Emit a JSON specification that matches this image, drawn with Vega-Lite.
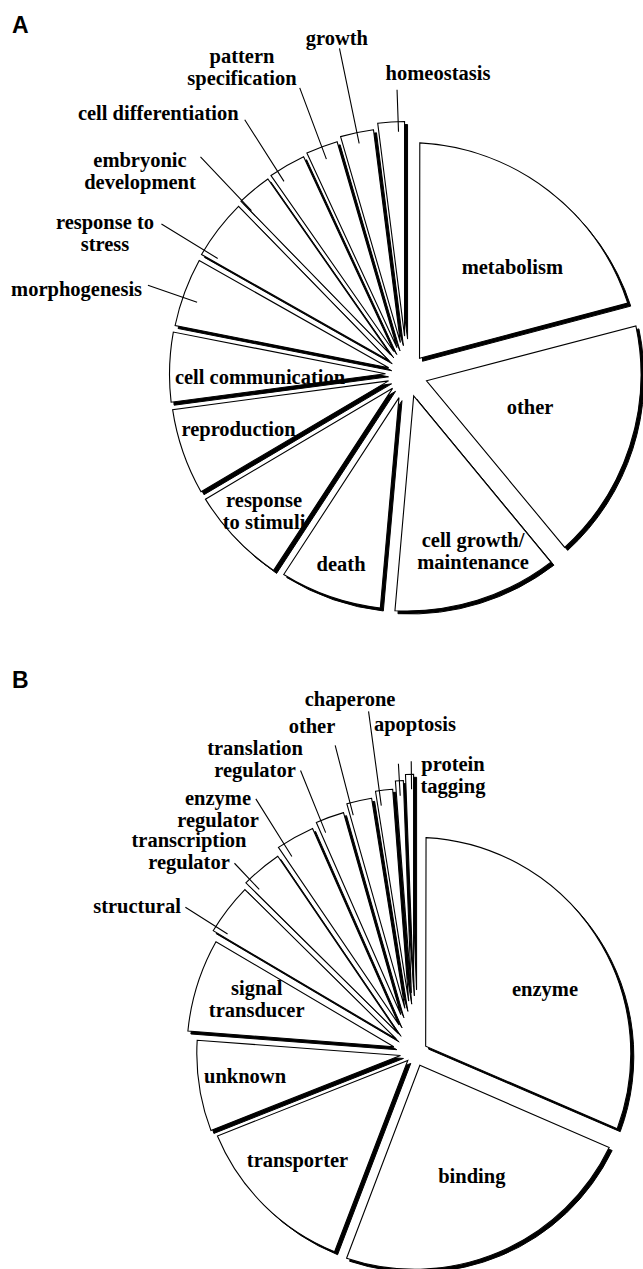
{
"$schema":"https://vega.github.io/schema/vega-lite/v6.json",
"width":643,"height":1269,"autosize":{"type":"none"},"padding":0,"background":"white",
"config":{"view":{"stroke":null}},
"data":{"values":[
{"chart":"A","label":"metabolism","pct":20.9},
{"chart":"A","label":"other","pct":18.1},
{"chart":"A","label":"cell growth/\nmaintenance","pct":12.4},
{"chart":"A","label":"death","pct":7.8},
{"chart":"A","label":"response\nto stimuli","pct":7.3},
{"chart":"A","label":"reproduction","pct":6.4},
{"chart":"A","label":"cell communication","pct":5.2},
{"chart":"A","label":"morphogenesis","pct":5.1},
{"chart":"A","label":"response to\nstress","pct":4.5},
{"chart":"A","label":"embryonic\ndevelopment","pct":2.6},
{"chart":"A","label":"cell differentiation","pct":2.8},
{"chart":"A","label":"pattern\nspecification","pct":2.4},
{"chart":"A","label":"growth","pct":2.5},
{"chart":"A","label":"homeostasis","pct":2.0},
{"chart":"B","label":"enzyme","pct":31.5},
{"chart":"B","label":"binding","pct":24.3},
{"chart":"B","label":"transporter","pct":13.2},
{"chart":"B","label":"unknown","pct":7.2},
{"chart":"B","label":"signal\ntransducer","pct":7.3},
{"chart":"B","label":"structural","pct":3.9},
{"chart":"B","label":"transcription\nregulator","pct":3.1},
{"chart":"B","label":"enzyme\nregulator","pct":2.9},
{"chart":"B","label":"translation\nregulator","pct":2.2},
{"chart":"B","label":"other","pct":1.9},
{"chart":"B","label":"chaperone","pct":1.3},
{"chart":"B","label":"apoptosis","pct":0.6},
{"chart":"B","label":"protein\ntagging","pct":0.6}
]},
"transform":[
{"window":[{"op":"row_number","as":"rank"}],"groupby":["chart"]},
{"stack":"pct","groupby":["chart"],"sort":[{"field":"rank","order":"ascending"}],"as":["t0","t1"]}
],
"encoding":{
"x":{"field":"chart","type":"nominal","scale":{"type":"point","domain":["A","B"],"range":[407,414.8],"padding":0},"axis":null},
"y":{"field":"chart","type":"nominal","scale":{"type":"point","domain":["A","B"],"range":[374.5,1053.3],"padding":0},"axis":null}
},
"resolve":{"scale":{"x":"independent","y":"independent"}},
"layer":[
{"transform":[{"filter":"datum.chart=='A'&&datum.rank==1"}],"mark":{"type":"arc","innerRadius":20.5,"outerRadius":232,"padAngle":0.11,"fill":"black","stroke":"black","strokeWidth":1,"xOffset":3,"yOffset":3},"encoding":{"theta":{"field":"t0","type":"quantitative","scale":{"domain":[0,100]}},"theta2":{"field":"t1"}}},
{"transform":[{"filter":"datum.chart=='A'&&datum.rank==2"}],"mark":{"type":"arc","innerRadius":20.5,"outerRadius":234,"padAngle":0.0963,"fill":"black","stroke":"black","strokeWidth":1,"xOffset":3,"yOffset":3},"encoding":{"theta":{"field":"t0","type":"quantitative","scale":{"domain":[0,100]}},"theta2":{"field":"t1"}}},
{"transform":[{"filter":"datum.chart=='A'&&datum.rank==3"}],"mark":{"type":"arc","innerRadius":22.5,"outerRadius":236.5,"padAngle":0.0736,"fill":"black","stroke":"black","strokeWidth":1,"xOffset":3,"yOffset":3},"encoding":{"theta":{"field":"t0","type":"quantitative","scale":{"domain":[0,100]}},"theta2":{"field":"t1"}}},
{"transform":[{"filter":"datum.chart=='A'&&datum.rank==4"}],"mark":{"type":"arc","innerRadius":24.5,"outerRadius":235,"padAngle":0.0514,"fill":"black","stroke":"black","strokeWidth":1,"xOffset":3,"yOffset":3},"encoding":{"theta":{"field":"t0","type":"quantitative","scale":{"domain":[0,100]}},"theta2":{"field":"t1"}}},
{"transform":[{"filter":"datum.chart=='A'&&datum.rank==5"}],"mark":{"type":"arc","innerRadius":20,"outerRadius":237,"padAngle":0.0394,"fill":"black","stroke":"black","strokeWidth":1,"xOffset":3,"yOffset":3},"encoding":{"theta":{"field":"t0","type":"quantitative","scale":{"domain":[0,100]}},"theta2":{"field":"t1"}}},
{"transform":[{"filter":"datum.chart=='A'&&datum.rank==6"}],"mark":{"type":"arc","innerRadius":19.5,"outerRadius":237,"padAngle":0.0336,"fill":"black","stroke":"black","strokeWidth":1,"xOffset":3,"yOffset":3},"encoding":{"theta":{"field":"t0","type":"quantitative","scale":{"domain":[0,100]}},"theta2":{"field":"t1"}}},
{"transform":[{"filter":"datum.chart=='A'&&datum.rank==7"}],"mark":{"type":"arc","innerRadius":21.5,"outerRadius":237.5,"padAngle":0.03,"fill":"black","stroke":"black","strokeWidth":1,"xOffset":3,"yOffset":3},"encoding":{"theta":{"field":"t0","type":"quantitative","scale":{"domain":[0,100]}},"theta2":{"field":"t1"}}},
{"transform":[{"filter":"datum.chart=='A'&&datum.rank==8"}],"mark":{"type":"arc","innerRadius":19.5,"outerRadius":237,"padAngle":0.0268,"fill":"black","stroke":"black","strokeWidth":1,"xOffset":3,"yOffset":3},"encoding":{"theta":{"field":"t0","type":"quantitative","scale":{"domain":[0,100]}},"theta2":{"field":"t1"}}},
{"transform":[{"filter":"datum.chart=='A'&&datum.rank==9"}],"mark":{"type":"arc","innerRadius":22.5,"outerRadius":238,"padAngle":0.0271,"fill":"black","stroke":"black","strokeWidth":1,"xOffset":3,"yOffset":3},"encoding":{"theta":{"field":"t0","type":"quantitative","scale":{"domain":[0,100]}},"theta2":{"field":"t1"}}},
{"transform":[{"filter":"datum.chart=='A'&&datum.rank==10"}],"mark":{"type":"arc","innerRadius":25.5,"outerRadius":240,"padAngle":0.0176,"fill":"black","stroke":"black","strokeWidth":1,"xOffset":3,"yOffset":3},"encoding":{"theta":{"field":"t0","type":"quantitative","scale":{"domain":[0,100]}},"theta2":{"field":"t1"}}},
{"transform":[{"filter":"datum.chart=='A'&&datum.rank==11"}],"mark":{"type":"arc","innerRadius":26.5,"outerRadius":241,"padAngle":0.0196,"fill":"black","stroke":"black","strokeWidth":1,"xOffset":3,"yOffset":3},"encoding":{"theta":{"field":"t0","type":"quantitative","scale":{"domain":[0,100]}},"theta2":{"field":"t1"}}},
{"transform":[{"filter":"datum.chart=='A'&&datum.rank==12"}],"mark":{"type":"arc","innerRadius":28.5,"outerRadius":243,"padAngle":0.0178,"fill":"black","stroke":"black","strokeWidth":1,"xOffset":3,"yOffset":3},"encoding":{"theta":{"field":"t0","type":"quantitative","scale":{"domain":[0,100]}},"theta2":{"field":"t1"}}},
{"transform":[{"filter":"datum.chart=='A'&&datum.rank==13"}],"mark":{"type":"arc","innerRadius":32.5,"outerRadius":247,"padAngle":0.0208,"fill":"black","stroke":"black","strokeWidth":1,"xOffset":3,"yOffset":3},"encoding":{"theta":{"field":"t0","type":"quantitative","scale":{"domain":[0,100]}},"theta2":{"field":"t1"}}},
{"transform":[{"filter":"datum.chart=='A'&&datum.rank==14"}],"mark":{"type":"arc","innerRadius":38.5,"outerRadius":253,"padAngle":0.0191,"fill":"black","stroke":"black","strokeWidth":1,"xOffset":3,"yOffset":3},"encoding":{"theta":{"field":"t0","type":"quantitative","scale":{"domain":[0,100]}},"theta2":{"field":"t1"}}},
{"transform":[{"filter":"datum.chart=='B'&&datum.rank==1"}],"mark":{"type":"arc","innerRadius":13,"outerRadius":216,"padAngle":0.104,"fill":"black","stroke":"black","strokeWidth":1,"xOffset":3,"yOffset":3},"encoding":{"theta":{"field":"t0","type":"quantitative","scale":{"domain":[0,100]}},"theta2":{"field":"t1"}}},
{"transform":[{"filter":"datum.chart=='B'&&datum.rank==2"}],"mark":{"type":"arc","innerRadius":13,"outerRadius":216,"padAngle":0.086,"fill":"black","stroke":"black","strokeWidth":1,"xOffset":3,"yOffset":3},"encoding":{"theta":{"field":"t0","type":"quantitative","scale":{"domain":[0,100]}},"theta2":{"field":"t1"}}},
{"transform":[{"filter":"datum.chart=='B'&&datum.rank==3"}],"mark":{"type":"arc","innerRadius":10,"outerRadius":214,"padAngle":0.0396,"fill":"black","stroke":"black","strokeWidth":1,"xOffset":3,"yOffset":3},"encoding":{"theta":{"field":"t0","type":"quantitative","scale":{"domain":[0,100]}},"theta2":{"field":"t1"}}},
{"transform":[{"filter":"datum.chart=='B'&&datum.rank==4"}],"mark":{"type":"arc","innerRadius":14.5,"outerRadius":218,"padAngle":0.0307,"fill":"black","stroke":"black","strokeWidth":1,"xOffset":3,"yOffset":3},"encoding":{"theta":{"field":"t0","type":"quantitative","scale":{"domain":[0,100]}},"theta2":{"field":"t1"}}},
{"transform":[{"filter":"datum.chart=='B'&&datum.rank==5"}],"mark":{"type":"arc","innerRadius":22,"outerRadius":228,"padAngle":0.0451,"fill":"black","stroke":"black","strokeWidth":1,"xOffset":3,"yOffset":3},"encoding":{"theta":{"field":"t0","type":"quantitative","scale":{"domain":[0,100]}},"theta2":{"field":"t1"}}},
{"transform":[{"filter":"datum.chart=='B'&&datum.rank==6"}],"mark":{"type":"arc","innerRadius":23.5,"outerRadius":236,"padAngle":0.0245,"fill":"black","stroke":"black","strokeWidth":1,"xOffset":3,"yOffset":3},"encoding":{"theta":{"field":"t0","type":"quantitative","scale":{"domain":[0,100]}},"theta2":{"field":"t1"}}},
{"transform":[{"filter":"datum.chart=='B'&&datum.rank==7"}],"mark":{"type":"arc","innerRadius":26,"outerRadius":240,"padAngle":0.0215,"fill":"black","stroke":"black","strokeWidth":1,"xOffset":3,"yOffset":3},"encoding":{"theta":{"field":"t0","type":"quantitative","scale":{"domain":[0,100]}},"theta2":{"field":"t1"}}},
{"transform":[{"filter":"datum.chart=='B'&&datum.rank==8"}],"mark":{"type":"arc","innerRadius":32.5,"outerRadius":247,"padAngle":0.0238,"fill":"black","stroke":"black","strokeWidth":1,"xOffset":3,"yOffset":3},"encoding":{"theta":{"field":"t0","type":"quantitative","scale":{"domain":[0,100]}},"theta2":{"field":"t1"}}},
{"transform":[{"filter":"datum.chart=='B'&&datum.rank==9"}],"mark":{"type":"arc","innerRadius":41,"outerRadius":251,"padAngle":0.0228,"fill":"black","stroke":"black","strokeWidth":1,"xOffset":3,"yOffset":3},"encoding":{"theta":{"field":"t0","type":"quantitative","scale":{"domain":[0,100]}},"theta2":{"field":"t1"}}},
{"transform":[{"filter":"datum.chart=='B'&&datum.rank==10"}],"mark":{"type":"arc","innerRadius":46,"outerRadius":258.6,"padAngle":0.021,"fill":"black","stroke":"black","strokeWidth":1,"xOffset":3,"yOffset":3},"encoding":{"theta":{"field":"t0","type":"quantitative","scale":{"domain":[0,100]}},"theta2":{"field":"t1"}}},
{"transform":[{"filter":"datum.chart=='B'&&datum.rank==11"}],"mark":{"type":"arc","innerRadius":52.5,"outerRadius":265,"padAngle":0.0161,"fill":"black","stroke":"black","strokeWidth":1,"xOffset":3,"yOffset":3},"encoding":{"theta":{"field":"t0","type":"quantitative","scale":{"domain":[0,100]}},"theta2":{"field":"t1"}}},
{"transform":[{"filter":"datum.chart=='B'&&datum.rank==12"}],"mark":{"type":"arc","innerRadius":60.5,"outerRadius":273,"padAngle":0.0084,"fill":"black","stroke":"black","strokeWidth":1,"xOffset":3,"yOffset":3},"encoding":{"theta":{"field":"t0","type":"quantitative","scale":{"domain":[0,100]}},"theta2":{"field":"t1"}}},
{"transform":[{"filter":"datum.chart=='B'&&datum.rank==13"}],"mark":{"type":"arc","innerRadius":66.5,"outerRadius":279,"padAngle":0.0084,"fill":"black","stroke":"black","strokeWidth":1,"xOffset":3,"yOffset":3},"encoding":{"theta":{"field":"t0","type":"quantitative","scale":{"domain":[0,100]}},"theta2":{"field":"t1"}}},

{"transform":[{"filter":"datum.chart=='A'&&datum.rank==1"}],"mark":{"type":"arc","innerRadius":20.5,"outerRadius":232,"padAngle":0.11,"fill":"white","stroke":"black","strokeWidth":1.1},"encoding":{"theta":{"field":"t0","type":"quantitative","scale":{"domain":[0,100]}},"theta2":{"field":"t1"}}},
{"transform":[{"filter":"datum.chart=='A'&&datum.rank==2"}],"mark":{"type":"arc","innerRadius":20.5,"outerRadius":234,"padAngle":0.0963,"fill":"white","stroke":"black","strokeWidth":1.1},"encoding":{"theta":{"field":"t0","type":"quantitative","scale":{"domain":[0,100]}},"theta2":{"field":"t1"}}},
{"transform":[{"filter":"datum.chart=='A'&&datum.rank==3"}],"mark":{"type":"arc","innerRadius":22.5,"outerRadius":236.5,"padAngle":0.0736,"fill":"white","stroke":"black","strokeWidth":1.1},"encoding":{"theta":{"field":"t0","type":"quantitative","scale":{"domain":[0,100]}},"theta2":{"field":"t1"}}},
{"transform":[{"filter":"datum.chart=='A'&&datum.rank==4"}],"mark":{"type":"arc","innerRadius":24.5,"outerRadius":235,"padAngle":0.0514,"fill":"white","stroke":"black","strokeWidth":1.1},"encoding":{"theta":{"field":"t0","type":"quantitative","scale":{"domain":[0,100]}},"theta2":{"field":"t1"}}},
{"transform":[{"filter":"datum.chart=='A'&&datum.rank==5"}],"mark":{"type":"arc","innerRadius":20,"outerRadius":237,"padAngle":0.0394,"fill":"white","stroke":"black","strokeWidth":1.1},"encoding":{"theta":{"field":"t0","type":"quantitative","scale":{"domain":[0,100]}},"theta2":{"field":"t1"}}},
{"transform":[{"filter":"datum.chart=='A'&&datum.rank==6"}],"mark":{"type":"arc","innerRadius":19.5,"outerRadius":237,"padAngle":0.0336,"fill":"white","stroke":"black","strokeWidth":1.1},"encoding":{"theta":{"field":"t0","type":"quantitative","scale":{"domain":[0,100]}},"theta2":{"field":"t1"}}},
{"transform":[{"filter":"datum.chart=='A'&&datum.rank==7"}],"mark":{"type":"arc","innerRadius":21.5,"outerRadius":237.5,"padAngle":0.03,"fill":"white","stroke":"black","strokeWidth":1.1},"encoding":{"theta":{"field":"t0","type":"quantitative","scale":{"domain":[0,100]}},"theta2":{"field":"t1"}}},
{"transform":[{"filter":"datum.chart=='A'&&datum.rank==8"}],"mark":{"type":"arc","innerRadius":19.5,"outerRadius":237,"padAngle":0.0268,"fill":"white","stroke":"black","strokeWidth":1.1},"encoding":{"theta":{"field":"t0","type":"quantitative","scale":{"domain":[0,100]}},"theta2":{"field":"t1"}}},
{"transform":[{"filter":"datum.chart=='A'&&datum.rank==9"}],"mark":{"type":"arc","innerRadius":22.5,"outerRadius":238,"padAngle":0.0271,"fill":"white","stroke":"black","strokeWidth":1.1},"encoding":{"theta":{"field":"t0","type":"quantitative","scale":{"domain":[0,100]}},"theta2":{"field":"t1"}}},
{"transform":[{"filter":"datum.chart=='A'&&datum.rank==10"}],"mark":{"type":"arc","innerRadius":25.5,"outerRadius":240,"padAngle":0.0176,"fill":"white","stroke":"black","strokeWidth":1.1},"encoding":{"theta":{"field":"t0","type":"quantitative","scale":{"domain":[0,100]}},"theta2":{"field":"t1"}}},
{"transform":[{"filter":"datum.chart=='A'&&datum.rank==11"}],"mark":{"type":"arc","innerRadius":26.5,"outerRadius":241,"padAngle":0.0196,"fill":"white","stroke":"black","strokeWidth":1.1},"encoding":{"theta":{"field":"t0","type":"quantitative","scale":{"domain":[0,100]}},"theta2":{"field":"t1"}}},
{"transform":[{"filter":"datum.chart=='A'&&datum.rank==12"}],"mark":{"type":"arc","innerRadius":28.5,"outerRadius":243,"padAngle":0.0178,"fill":"white","stroke":"black","strokeWidth":1.1},"encoding":{"theta":{"field":"t0","type":"quantitative","scale":{"domain":[0,100]}},"theta2":{"field":"t1"}}},
{"transform":[{"filter":"datum.chart=='A'&&datum.rank==13"}],"mark":{"type":"arc","innerRadius":32.5,"outerRadius":247,"padAngle":0.0208,"fill":"white","stroke":"black","strokeWidth":1.1},"encoding":{"theta":{"field":"t0","type":"quantitative","scale":{"domain":[0,100]}},"theta2":{"field":"t1"}}},
{"transform":[{"filter":"datum.chart=='A'&&datum.rank==14"}],"mark":{"type":"arc","innerRadius":38.5,"outerRadius":253,"padAngle":0.0191,"fill":"white","stroke":"black","strokeWidth":1.1},"encoding":{"theta":{"field":"t0","type":"quantitative","scale":{"domain":[0,100]}},"theta2":{"field":"t1"}}},
{"transform":[{"filter":"datum.chart=='B'&&datum.rank==1"}],"mark":{"type":"arc","innerRadius":13,"outerRadius":216,"padAngle":0.104,"fill":"white","stroke":"black","strokeWidth":1.1},"encoding":{"theta":{"field":"t0","type":"quantitative","scale":{"domain":[0,100]}},"theta2":{"field":"t1"}}},
{"transform":[{"filter":"datum.chart=='B'&&datum.rank==2"}],"mark":{"type":"arc","innerRadius":13,"outerRadius":216,"padAngle":0.086,"fill":"white","stroke":"black","strokeWidth":1.1},"encoding":{"theta":{"field":"t0","type":"quantitative","scale":{"domain":[0,100]}},"theta2":{"field":"t1"}}},
{"transform":[{"filter":"datum.chart=='B'&&datum.rank==3"}],"mark":{"type":"arc","innerRadius":10,"outerRadius":214,"padAngle":0.0396,"fill":"white","stroke":"black","strokeWidth":1.1},"encoding":{"theta":{"field":"t0","type":"quantitative","scale":{"domain":[0,100]}},"theta2":{"field":"t1"}}},
{"transform":[{"filter":"datum.chart=='B'&&datum.rank==4"}],"mark":{"type":"arc","innerRadius":14.5,"outerRadius":218,"padAngle":0.0307,"fill":"white","stroke":"black","strokeWidth":1.1},"encoding":{"theta":{"field":"t0","type":"quantitative","scale":{"domain":[0,100]}},"theta2":{"field":"t1"}}},
{"transform":[{"filter":"datum.chart=='B'&&datum.rank==5"}],"mark":{"type":"arc","innerRadius":22,"outerRadius":228,"padAngle":0.0451,"fill":"white","stroke":"black","strokeWidth":1.1},"encoding":{"theta":{"field":"t0","type":"quantitative","scale":{"domain":[0,100]}},"theta2":{"field":"t1"}}},
{"transform":[{"filter":"datum.chart=='B'&&datum.rank==6"}],"mark":{"type":"arc","innerRadius":23.5,"outerRadius":236,"padAngle":0.0245,"fill":"white","stroke":"black","strokeWidth":1.1},"encoding":{"theta":{"field":"t0","type":"quantitative","scale":{"domain":[0,100]}},"theta2":{"field":"t1"}}},
{"transform":[{"filter":"datum.chart=='B'&&datum.rank==7"}],"mark":{"type":"arc","innerRadius":26,"outerRadius":240,"padAngle":0.0215,"fill":"white","stroke":"black","strokeWidth":1.1},"encoding":{"theta":{"field":"t0","type":"quantitative","scale":{"domain":[0,100]}},"theta2":{"field":"t1"}}},
{"transform":[{"filter":"datum.chart=='B'&&datum.rank==8"}],"mark":{"type":"arc","innerRadius":32.5,"outerRadius":247,"padAngle":0.0238,"fill":"white","stroke":"black","strokeWidth":1.1},"encoding":{"theta":{"field":"t0","type":"quantitative","scale":{"domain":[0,100]}},"theta2":{"field":"t1"}}},
{"transform":[{"filter":"datum.chart=='B'&&datum.rank==9"}],"mark":{"type":"arc","innerRadius":41,"outerRadius":251,"padAngle":0.0228,"fill":"white","stroke":"black","strokeWidth":1.1},"encoding":{"theta":{"field":"t0","type":"quantitative","scale":{"domain":[0,100]}},"theta2":{"field":"t1"}}},
{"transform":[{"filter":"datum.chart=='B'&&datum.rank==10"}],"mark":{"type":"arc","innerRadius":46,"outerRadius":258.6,"padAngle":0.021,"fill":"white","stroke":"black","strokeWidth":1.1},"encoding":{"theta":{"field":"t0","type":"quantitative","scale":{"domain":[0,100]}},"theta2":{"field":"t1"}}},
{"transform":[{"filter":"datum.chart=='B'&&datum.rank==11"}],"mark":{"type":"arc","innerRadius":52.5,"outerRadius":265,"padAngle":0.0161,"fill":"white","stroke":"black","strokeWidth":1.1},"encoding":{"theta":{"field":"t0","type":"quantitative","scale":{"domain":[0,100]}},"theta2":{"field":"t1"}}},
{"transform":[{"filter":"datum.chart=='B'&&datum.rank==12"}],"mark":{"type":"arc","innerRadius":60.5,"outerRadius":273,"padAngle":0.0084,"fill":"white","stroke":"black","strokeWidth":1.1},"encoding":{"theta":{"field":"t0","type":"quantitative","scale":{"domain":[0,100]}},"theta2":{"field":"t1"}}},
{"transform":[{"filter":"datum.chart=='B'&&datum.rank==13"}],"mark":{"type":"arc","innerRadius":66.5,"outerRadius":279,"padAngle":0.0084,"fill":"white","stroke":"black","strokeWidth":1.1},"encoding":{"theta":{"field":"t0","type":"quantitative","scale":{"domain":[0,100]}},"theta2":{"field":"t1"}}},

{"transform":[{"filter":"datum.chart=='A'&&datum.rank==8"}],"mark":{"type":"arc","innerRadius":222,"outerRadius":274,"padAngle":3,"thetaOffset":-0.0234,"theta2Offset":-0.0234,"filled":false,"stroke":"black","strokeWidth":1.1},"encoding":{"theta":{"field":"t0","type":"quantitative","scale":{"domain":[0,100]}},"theta2":{"field":"t1"}}},
{"transform":[{"filter":"datum.chart=='A'&&datum.rank==9"}],"mark":{"type":"arc","innerRadius":222,"outerRadius":288,"padAngle":3,"thetaOffset":-0.1068,"theta2Offset":-0.1068,"filled":false,"stroke":"black","strokeWidth":1.1},"encoding":{"theta":{"field":"t0","type":"quantitative","scale":{"domain":[0,100]}},"theta2":{"field":"t1"}}},
{"transform":[{"filter":"datum.chart=='A'&&datum.rank==10"}],"mark":{"type":"arc","innerRadius":226,"outerRadius":300,"padAngle":3,"thetaOffset":-0.0681,"theta2Offset":-0.0681,"filled":false,"stroke":"black","strokeWidth":1.1},"encoding":{"theta":{"field":"t0","type":"quantitative","scale":{"domain":[0,100]}},"theta2":{"field":"t1"}}},
{"transform":[{"filter":"datum.chart=='A'&&datum.rank==11"}],"mark":{"type":"arc","innerRadius":229,"outerRadius":302,"padAngle":3,"thetaOffset":-0.0457,"theta2Offset":-0.0457,"filled":false,"stroke":"black","strokeWidth":1.1},"encoding":{"theta":{"field":"t0","type":"quantitative","scale":{"domain":[0,100]}},"theta2":{"field":"t1"}}},
{"transform":[{"filter":"datum.chart=='A'&&datum.rank==12"}],"mark":{"type":"arc","innerRadius":230,"outerRadius":306,"padAngle":3,"filled":false,"stroke":"black","strokeWidth":1.1},"encoding":{"theta":{"field":"t0","type":"quantitative","scale":{"domain":[0,100]}},"theta2":{"field":"t1"}}},
{"transform":[{"filter":"datum.chart=='A'&&datum.rank==13"}],"mark":{"type":"arc","innerRadius":236,"outerRadius":333,"padAngle":3,"filled":false,"stroke":"black","strokeWidth":1.1},"encoding":{"theta":{"field":"t0","type":"quantitative","scale":{"domain":[0,100]}},"theta2":{"field":"t1"}}},
{"transform":[{"filter":"datum.chart=='A'&&datum.rank==14"}],"mark":{"type":"arc","innerRadius":243,"outerRadius":285,"padAngle":3,"thetaOffset":0.0279,"theta2Offset":0.0279,"filled":false,"stroke":"black","strokeWidth":1.1},"encoding":{"theta":{"field":"t0","type":"quantitative","scale":{"domain":[0,100]}},"theta2":{"field":"t1"}}},
{"transform":[{"filter":"datum.chart=='B'&&datum.rank==6"}],"mark":{"type":"arc","innerRadius":222,"outerRadius":272,"padAngle":3,"thetaOffset":-0.0894,"theta2Offset":-0.0894,"filled":false,"stroke":"black","strokeWidth":1.1},"encoding":{"theta":{"field":"t0","type":"quantitative","scale":{"domain":[0,100]}},"theta2":{"field":"t1"}}},
{"transform":[{"filter":"datum.chart=='B'&&datum.rank==7"}],"mark":{"type":"arc","innerRadius":226,"outerRadius":262,"padAngle":3,"thetaOffset":-0.0649,"theta2Offset":-0.0649,"filled":false,"stroke":"black","strokeWidth":1.1},"encoding":{"theta":{"field":"t0","type":"quantitative","scale":{"domain":[0,100]}},"theta2":{"field":"t1"}}},
{"transform":[{"filter":"datum.chart=='B'&&datum.rank==8"}],"mark":{"type":"arc","innerRadius":232,"outerRadius":300,"padAngle":3,"thetaOffset":-0.0527,"theta2Offset":-0.0527,"filled":false,"stroke":"black","strokeWidth":1.1},"encoding":{"theta":{"field":"t0","type":"quantitative","scale":{"domain":[0,100]}},"theta2":{"field":"t1"}}},
{"transform":[{"filter":"datum.chart=='B'&&datum.rank==9"}],"mark":{"type":"arc","innerRadius":238,"outerRadius":305,"padAngle":3,"thetaOffset":-0.0384,"theta2Offset":-0.0384,"filled":false,"stroke":"black","strokeWidth":1.1},"encoding":{"theta":{"field":"t0","type":"quantitative","scale":{"domain":[0,100]}},"theta2":{"field":"t1"}}},
{"transform":[{"filter":"datum.chart=='B'&&datum.rank==10"}],"mark":{"type":"arc","innerRadius":246,"outerRadius":318,"padAngle":3,"thetaOffset":-0.0363,"theta2Offset":-0.0363,"filled":false,"stroke":"black","strokeWidth":1.1},"encoding":{"theta":{"field":"t0","type":"quantitative","scale":{"domain":[0,100]}},"theta2":{"field":"t1"}}},
{"transform":[{"filter":"datum.chart=='B'&&datum.rank==11"}],"mark":{"type":"arc","innerRadius":250,"outerRadius":345,"padAngle":3,"thetaOffset":-0.0182,"theta2Offset":-0.0182,"filled":false,"stroke":"black","strokeWidth":1.1},"encoding":{"theta":{"field":"t0","type":"quantitative","scale":{"domain":[0,100]}},"theta2":{"field":"t1"}}},
{"transform":[{"filter":"datum.chart=='B'&&datum.rank==12"}],"mark":{"type":"arc","innerRadius":258,"outerRadius":290,"padAngle":3,"filled":false,"stroke":"black","strokeWidth":1.1},"encoding":{"theta":{"field":"t0","type":"quantitative","scale":{"domain":[0,100]}},"theta2":{"field":"t1"}}},
{"transform":[{"filter":"datum.chart=='B'&&datum.rank==13"}],"mark":{"type":"arc","innerRadius":264,"outerRadius":292,"padAngle":3,"thetaOffset":0.0066,"theta2Offset":0.0066,"filled":false,"stroke":"black","strokeWidth":1.1},"encoding":{"theta":{"field":"t0","type":"quantitative","scale":{"domain":[0,100]}},"theta2":{"field":"t1"}}},

{"transform":[{"filter":"datum.chart=='A'"}],"mark":{"type":"text","radius":150,"font":"Liberation Serif","fontWeight":"bold","fontSize":20.5,"lineHeight":22,"lineBreak":"\n","align":"center","baseline":"middle","fill":"black"},"encoding":{"theta":{"field":"pct","type":"quantitative","stack":true,"bandPosition":0.593,"scale":{"domain":[0,100]}},"order":{"field":"rank","type":"quantitative"},"text":{"field":"label","type":"nominal"},"opacity":{"condition":{"test":"datum.rank==1","value":1},"value":0}}},
{"transform":[{"filter":"datum.chart=='A'"}],"mark":{"type":"text","radius":127.5,"font":"Liberation Serif","fontWeight":"bold","fontSize":20.5,"lineHeight":22,"lineBreak":"\n","align":"center","baseline":"middle","fill":"black"},"encoding":{"theta":{"field":"pct","type":"quantitative","stack":true,"bandPosition":0.46,"scale":{"domain":[0,100]}},"order":{"field":"rank","type":"quantitative"},"text":{"field":"label","type":"nominal"},"opacity":{"condition":{"test":"datum.rank==2","value":1},"value":0}}},
{"transform":[{"filter":"datum.chart=='A'"}],"mark":{"type":"text","radius":189.4,"dy":-11,"font":"Liberation Serif","fontWeight":"bold","fontSize":20.5,"lineHeight":22,"lineBreak":"\n","align":"center","baseline":"middle","fill":"black"},"encoding":{"theta":{"field":"pct","type":"quantitative","stack":true,"bandPosition":0.43,"scale":{"domain":[0,100]}},"order":{"field":"rank","type":"quantitative"},"text":{"field":"label","type":"nominal"},"opacity":{"condition":{"test":"datum.rank==3","value":1},"value":0}}},
{"transform":[{"filter":"datum.chart=='A'"}],"mark":{"type":"text","radius":201.6,"font":"Liberation Serif","fontWeight":"bold","fontSize":20.5,"lineHeight":22,"lineBreak":"\n","align":"center","baseline":"middle","fill":"black"},"encoding":{"theta":{"field":"pct","type":"quantitative","stack":true,"bandPosition":0.5,"scale":{"domain":[0,100]}},"order":{"field":"rank","type":"quantitative"},"text":{"field":"label","type":"nominal"},"opacity":{"condition":{"test":"datum.rank==4","value":1},"value":0}}},
{"transform":[{"filter":"datum.chart=='A'"}],"mark":{"type":"text","radius":198.4,"dy":-11,"font":"Liberation Serif","fontWeight":"bold","fontSize":20.5,"lineHeight":22,"lineBreak":"\n","align":"center","baseline":"middle","fill":"black"},"encoding":{"theta":{"field":"pct","type":"quantitative","stack":true,"bandPosition":0.494,"scale":{"domain":[0,100]}},"order":{"field":"rank","type":"quantitative"},"text":{"field":"label","type":"nominal"},"opacity":{"condition":{"test":"datum.rank==5","value":1},"value":0}}},
{"transform":[{"filter":"datum.chart=='A'"}],"mark":{"type":"text","radius":177.2,"font":"Liberation Serif","fontWeight":"bold","fontSize":20.5,"lineHeight":22,"lineBreak":"\n","align":"center","baseline":"middle","fill":"black"},"encoding":{"theta":{"field":"pct","type":"quantitative","stack":true,"bandPosition":0.543,"scale":{"domain":[0,100]}},"order":{"field":"rank","type":"quantitative"},"text":{"field":"label","type":"nominal"},"opacity":{"condition":{"test":"datum.rank==6","value":1},"value":0}}},
{"transform":[{"filter":"datum.chart=='A'"}],"mark":{"type":"text","radius":147,"font":"Liberation Serif","fontWeight":"bold","fontSize":20.5,"lineHeight":22,"lineBreak":"\n","align":"center","baseline":"middle","fill":"black"},"encoding":{"theta":{"field":"pct","type":"quantitative","stack":true,"bandPosition":0.34,"scale":{"domain":[0,100]}},"order":{"field":"rank","type":"quantitative"},"text":{"field":"label","type":"nominal"},"opacity":{"condition":{"test":"datum.rank==7","value":1},"value":0}}},
{"transform":[{"filter":"datum.chart=='A'"}],"mark":{"type":"text","radius":341,"font":"Liberation Serif","fontWeight":"bold","fontSize":20.5,"lineHeight":22,"lineBreak":"\n","align":"center","baseline":"middle","fill":"black"},"encoding":{"theta":{"field":"pct","type":"quantitative","stack":true,"bandPosition":0.171,"scale":{"domain":[0,100]}},"order":{"field":"rank","type":"quantitative"},"text":{"field":"label","type":"nominal"},"opacity":{"condition":{"test":"datum.rank==8","value":1},"value":0}}},
{"transform":[{"filter":"datum.chart=='A'"}],"mark":{"type":"text","radius":332.9,"thetaOffset":-0.2225,"dy":-11,"font":"Liberation Serif","fontWeight":"bold","fontSize":20.5,"lineHeight":22,"lineBreak":"\n","align":"center","baseline":"middle","fill":"black"},"encoding":{"theta":{"field":"pct","type":"quantitative","stack":true,"scale":{"domain":[0,100]}},"order":{"field":"rank","type":"quantitative"},"text":{"field":"label","type":"nominal"},"opacity":{"condition":{"test":"datum.rank==9","value":1},"value":0}}},
{"transform":[{"filter":"datum.chart=='A'"}],"mark":{"type":"text","radius":335.4,"thetaOffset":-0.2297,"dy":-11,"font":"Liberation Serif","fontWeight":"bold","fontSize":20.5,"lineHeight":22,"lineBreak":"\n","align":"center","baseline":"middle","fill":"black"},"encoding":{"theta":{"field":"pct","type":"quantitative","stack":true,"scale":{"domain":[0,100]}},"order":{"field":"rank","type":"quantitative"},"text":{"field":"label","type":"nominal"},"opacity":{"condition":{"test":"datum.rank==10","value":1},"value":0}}},
{"transform":[{"filter":"datum.chart=='A'"}],"mark":{"type":"text","radius":360,"thetaOffset":-0.2412,"font":"Liberation Serif","fontWeight":"bold","fontSize":20.5,"lineHeight":22,"lineBreak":"\n","align":"center","baseline":"middle","fill":"black"},"encoding":{"theta":{"field":"pct","type":"quantitative","stack":true,"scale":{"domain":[0,100]}},"order":{"field":"rank","type":"quantitative"},"text":{"field":"label","type":"nominal"},"opacity":{"condition":{"test":"datum.rank==11","value":1},"value":0}}},
{"transform":[{"filter":"datum.chart=='A'"}],"mark":{"type":"text","radius":348.1,"thetaOffset":-0.1358,"dy":-11,"font":"Liberation Serif","fontWeight":"bold","fontSize":20.5,"lineHeight":22,"lineBreak":"\n","align":"center","baseline":"middle","fill":"black"},"encoding":{"theta":{"field":"pct","type":"quantitative","stack":true,"scale":{"domain":[0,100]}},"order":{"field":"rank","type":"quantitative"},"text":{"field":"label","type":"nominal"},"opacity":{"condition":{"test":"datum.rank==12","value":1},"value":0}}},
{"transform":[{"filter":"datum.chart=='A'"}],"mark":{"type":"text","radius":343.2,"font":"Liberation Serif","fontWeight":"bold","fontSize":20.5,"lineHeight":22,"lineBreak":"\n","align":"center","baseline":"middle","fill":"black"},"encoding":{"theta":{"field":"pct","type":"quantitative","stack":true,"bandPosition":0.489,"scale":{"domain":[0,100]}},"order":{"field":"rank","type":"quantitative"},"text":{"field":"label","type":"nominal"},"opacity":{"condition":{"test":"datum.rank==13","value":1},"value":0}}},
{"transform":[{"filter":"datum.chart=='A'"}],"mark":{"type":"text","radius":301.6,"thetaOffset":0.1658,"font":"Liberation Serif","fontWeight":"bold","fontSize":20.5,"lineHeight":22,"lineBreak":"\n","align":"center","baseline":"middle","fill":"black"},"encoding":{"theta":{"field":"pct","type":"quantitative","stack":true,"scale":{"domain":[0,100]}},"order":{"field":"rank","type":"quantitative"},"text":{"field":"label","type":"nominal"},"opacity":{"condition":{"test":"datum.rank==14","value":1},"value":0}}},
{"transform":[{"filter":"datum.chart=='B'"}],"mark":{"type":"text","radius":144.8,"font":"Liberation Serif","fontWeight":"bold","fontSize":20.5,"lineHeight":22,"lineBreak":"\n","align":"center","baseline":"middle","fill":"black"},"encoding":{"theta":{"field":"pct","type":"quantitative","stack":true,"bandPosition":0.565,"scale":{"domain":[0,100]}},"order":{"field":"rank","type":"quantitative"},"text":{"field":"label","type":"nominal"},"opacity":{"condition":{"test":"datum.rank==1","value":1},"value":0}}},
{"transform":[{"filter":"datum.chart=='B'"}],"mark":{"type":"text","radius":135.9,"font":"Liberation Serif","fontWeight":"bold","fontSize":20.5,"lineHeight":22,"lineBreak":"\n","align":"center","baseline":"middle","fill":"black"},"encoding":{"theta":{"field":"pct","type":"quantitative","stack":true,"bandPosition":0.478,"scale":{"domain":[0,100]}},"order":{"field":"rank","type":"quantitative"},"text":{"field":"label","type":"nominal"},"opacity":{"condition":{"test":"datum.rank==2","value":1},"value":0}}},
{"transform":[{"filter":"datum.chart=='B'"}],"mark":{"type":"text","radius":159.1,"font":"Liberation Serif","fontWeight":"bold","fontSize":20.5,"lineHeight":22,"lineBreak":"\n","align":"center","baseline":"middle","fill":"black"},"encoding":{"theta":{"field":"pct","type":"quantitative","stack":true,"bandPosition":0.56,"scale":{"domain":[0,100]}},"order":{"field":"rank","type":"quantitative"},"text":{"field":"label","type":"nominal"},"opacity":{"condition":{"test":"datum.rank==3","value":1},"value":0}}},
{"transform":[{"filter":"datum.chart=='B'"}],"mark":{"type":"text","radius":171.4,"font":"Liberation Serif","fontWeight":"bold","fontSize":20.5,"lineHeight":22,"lineBreak":"\n","align":"center","baseline":"middle","fill":"black"},"encoding":{"theta":{"field":"pct","type":"quantitative","stack":true,"bandPosition":0.53,"scale":{"domain":[0,100]}},"order":{"field":"rank","type":"quantitative"},"text":{"field":"label","type":"nominal"},"opacity":{"condition":{"test":"datum.rank==4","value":1},"value":0}}},
{"transform":[{"filter":"datum.chart=='B'"}],"mark":{"type":"text","radius":166.8,"dy":-11,"font":"Liberation Serif","fontWeight":"bold","fontSize":20.5,"lineHeight":22,"lineBreak":"\n","align":"center","baseline":"middle","fill":"black"},"encoding":{"theta":{"field":"pct","type":"quantitative","stack":true,"bandPosition":0.543,"scale":{"domain":[0,100]}},"order":{"field":"rank","type":"quantitative"},"text":{"field":"label","type":"nominal"},"opacity":{"condition":{"test":"datum.rank==5","value":1},"value":0}}},
{"transform":[{"filter":"datum.chart=='B'"}],"mark":{"type":"text","radius":313.97,"thetaOffset":-0.1719,"font":"Liberation Serif","fontWeight":"bold","fontSize":20.5,"lineHeight":22,"lineBreak":"\n","align":"center","baseline":"middle","fill":"black"},"encoding":{"theta":{"field":"pct","type":"quantitative","stack":true,"scale":{"domain":[0,100]}},"order":{"field":"rank","type":"quantitative"},"text":{"field":"label","type":"nominal"},"opacity":{"condition":{"test":"datum.rank==6","value":1},"value":0}}},
{"transform":[{"filter":"datum.chart=='B'"}],"mark":{"type":"text","radius":302.4,"thetaOffset":-0.1489,"dy":-11,"font":"Liberation Serif","fontWeight":"bold","fontSize":20.5,"lineHeight":22,"lineBreak":"\n","align":"center","baseline":"middle","fill":"black"},"encoding":{"theta":{"field":"pct","type":"quantitative","stack":true,"scale":{"domain":[0,100]}},"order":{"field":"rank","type":"quantitative"},"text":{"field":"label","type":"nominal"},"opacity":{"condition":{"test":"datum.rank==7","value":1},"value":0}}},
{"transform":[{"filter":"datum.chart=='B'"}],"mark":{"type":"text","radius":312.9,"thetaOffset":-0.1744,"dy":-11,"font":"Liberation Serif","fontWeight":"bold","fontSize":20.5,"lineHeight":22,"lineBreak":"\n","align":"center","baseline":"middle","fill":"black"},"encoding":{"theta":{"field":"pct","type":"quantitative","stack":true,"scale":{"domain":[0,100]}},"order":{"field":"rank","type":"quantitative"},"text":{"field":"label","type":"nominal"},"opacity":{"condition":{"test":"datum.rank==8","value":1},"value":0}}},
{"transform":[{"filter":"datum.chart=='B'"}],"mark":{"type":"text","radius":334.4,"thetaOffset":-0.1527,"dy":-11,"font":"Liberation Serif","fontWeight":"bold","fontSize":20.5,"lineHeight":22,"lineBreak":"\n","align":"center","baseline":"middle","fill":"black"},"encoding":{"theta":{"field":"pct","type":"quantitative","stack":true,"scale":{"domain":[0,100]}},"order":{"field":"rank","type":"quantitative"},"text":{"field":"label","type":"nominal"},"opacity":{"condition":{"test":"datum.rank==9","value":1},"value":0}}},
{"transform":[{"filter":"datum.chart=='B'"}],"mark":{"type":"text","radius":342.1,"thetaOffset":-0.0885,"font":"Liberation Serif","fontWeight":"bold","fontSize":20.5,"lineHeight":22,"lineBreak":"\n","align":"center","baseline":"middle","fill":"black"},"encoding":{"theta":{"field":"pct","type":"quantitative","stack":true,"scale":{"domain":[0,100]}},"order":{"field":"rank","type":"quantitative"},"text":{"field":"label","type":"nominal"},"opacity":{"condition":{"test":"datum.rank==10","value":1},"value":0}}},
{"transform":[{"filter":"datum.chart=='B'"}],"mark":{"type":"text","radius":359.2,"thetaOffset":-0.0651,"font":"Liberation Serif","fontWeight":"bold","fontSize":20.5,"lineHeight":22,"lineBreak":"\n","align":"center","baseline":"middle","fill":"black"},"encoding":{"theta":{"field":"pct","type":"quantitative","stack":true,"scale":{"domain":[0,100]}},"order":{"field":"rank","type":"quantitative"},"text":{"field":"label","type":"nominal"},"opacity":{"condition":{"test":"datum.rank==11","value":1},"value":0}}},
{"transform":[{"filter":"datum.chart=='B'"}],"mark":{"type":"text","radius":328.8,"thetaOffset":0.0571,"font":"Liberation Serif","fontWeight":"bold","fontSize":20.5,"lineHeight":22,"lineBreak":"\n","align":"center","baseline":"middle","fill":"black"},"encoding":{"theta":{"field":"pct","type":"quantitative","stack":true,"scale":{"domain":[0,100]}},"order":{"field":"rank","type":"quantitative"},"text":{"field":"label","type":"nominal"},"opacity":{"condition":{"test":"datum.rank==12","value":1},"value":0}}},
{"transform":[{"filter":"datum.chart=='B'"}],"mark":{"type":"text","radius":279.9,"thetaOffset":0.1557,"dy":-11,"font":"Liberation Serif","fontWeight":"bold","fontSize":20.5,"lineHeight":22,"lineBreak":"\n","align":"center","baseline":"middle","fill":"black"},"encoding":{"theta":{"field":"pct","type":"quantitative","stack":true,"scale":{"domain":[0,100]}},"order":{"field":"rank","type":"quantitative"},"text":{"field":"label","type":"nominal"},"opacity":{"condition":{"test":"datum.rank==13","value":1},"value":0}}},

{"transform":[{"filter":"datum.rank==1"}],"mark":{"type":"text","font":"Liberation Sans","fontWeight":"bold","fontSize":23,"align":"left","baseline":"alphabetic","fill":"black"},"encoding":{"x":{"field":"chart","type":"nominal","scale":{"type":"point","domain":["A","B"],"range":[12,12],"padding":0},"axis":null},"y":{"field":"chart","type":"nominal","scale":{"type":"point","domain":["A","B"],"range":[33,688],"padding":0},"axis":null},"text":{"field":"chart","type":"nominal"}}}
]
}
